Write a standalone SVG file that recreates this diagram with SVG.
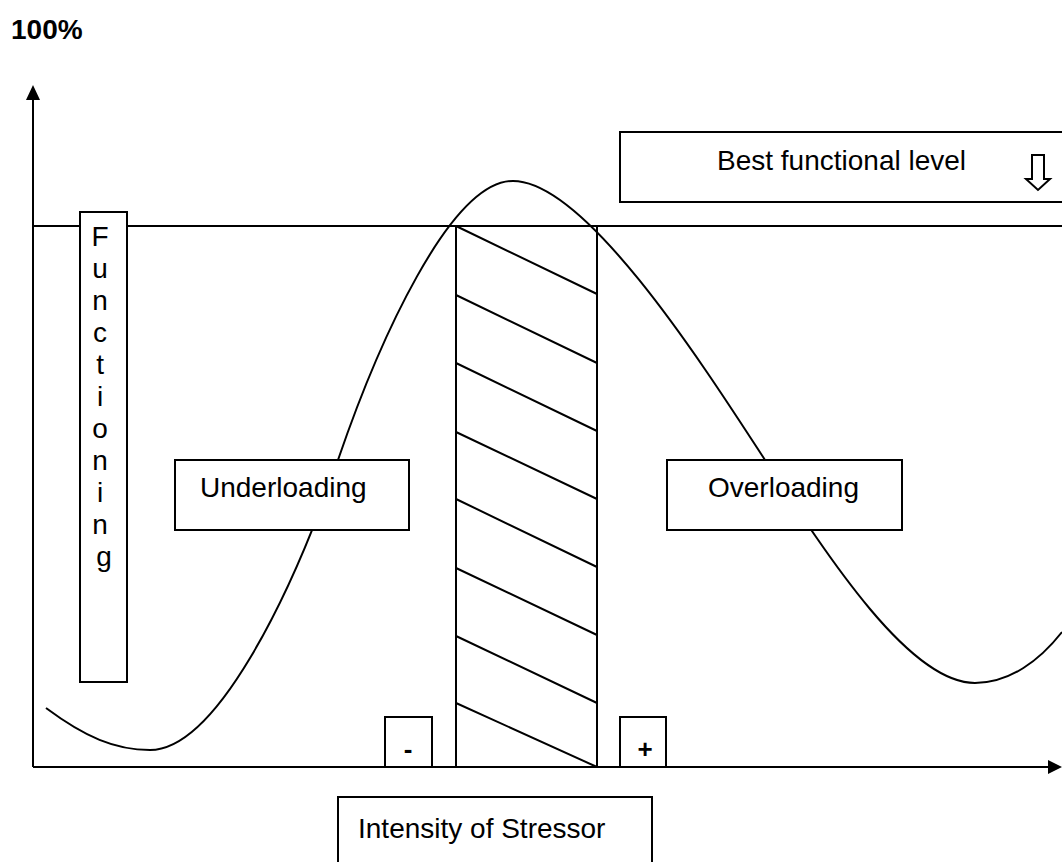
<svg xmlns="http://www.w3.org/2000/svg" width="1062" height="862" viewBox="0 0 1062 862">
<style>
.ln{stroke:#000;stroke-width:2;fill:none}
.bx{stroke:#000;stroke-width:2;fill:#fff}
.t{font-family:"Liberation Sans",Arial,sans-serif;font-size:28px;fill:#000}
.b{font-family:"Liberation Sans",Arial,sans-serif;font-weight:bold;fill:#000}
</style>
<rect width="1062" height="862" fill="#fff"/>
<g id="connectors">
<line class="ln" x1="33" y1="767" x2="33" y2="98"/>
<polygon points="26,100 33,85 40,100" fill="#000"/>
<line class="ln" x1="33" y1="767" x2="1050" y2="767"/>
<polygon points="1048,760 1062,767 1048,774" fill="#000"/>
<line class="ln" x1="33" y1="226" x2="1062" y2="226"/>
<path class="ln" d="M46,708 C85,737 115,750 150,750 C215,750 290,600 338,460 C378,343 450,181 513,181 C585,181 700,360 765,460 C830,560 910,683 975,683 C1010,683 1040,660 1062,632"/>
</g>
<g id="band">
<line class="ln" x1="456" y1="226" x2="456" y2="767"/>
<line class="ln" x1="597" y1="226" x2="597" y2="767"/>
<path class="ln" d="M456,226 L597,294 M456,295 L597,363 M456,363 L597,431 M456,432 L597,499 M456,499 L597,567 M456,568 L597,635 M456,636 L597,703 M456,703 L597,767"/>
</g>
<g id="label-100">
<text class="b" x="11" y="39" font-size="28">100%</text>
</g>
<g id="best-level">
<rect class="bx" x="620" y="132" width="460" height="70"/>
<text class="t" x="717" y="170">Best functional level</text>
<path class="ln" stroke-width="1.5" d="M1032,155 L1044,155 L1044,179 L1050,179 L1038,190 L1026,179 L1032,179 Z"/>
</g>
<g id="functioning">
<rect class="bx" x="80" y="212" width="47" height="470"/>
<text class="t" text-anchor="middle" x="104">
<tspan x="104" y="246">F</tspan>
<tspan x="104" y="278">u</tspan>
<tspan x="104" y="310">n</tspan>
<tspan x="104" y="342">c</tspan>
<tspan x="104" y="374">t</tspan>
<tspan x="104" y="406">i</tspan>
<tspan x="104" y="438">o</tspan>
<tspan x="104" y="470">n</tspan>
<tspan x="104" y="502">i</tspan>
<tspan x="104" y="534">n</tspan>
<tspan x="104" y="566">g</tspan>
</text>
</g>
<g id="underloading">
<rect class="bx" x="175" y="460" width="234" height="70"/>
<text class="t" x="200" y="497">Underloading</text>
</g>
<g id="overloading">
<rect class="bx" x="667" y="460" width="235" height="70"/>
<text class="t" x="708" y="497">Overloading</text>
</g>
<g id="minus">
<rect class="bx" x="385" y="717" width="47" height="50"/>
<text class="b" x="408" y="758" font-size="26" text-anchor="middle">-</text>
</g>
<g id="plus">
<rect class="bx" x="620" y="717" width="46" height="50"/>
<text class="b" x="645" y="758" font-size="26" text-anchor="middle">+</text>
</g>
<g id="intensity">
<rect class="bx" x="338" y="797" width="314" height="80"/>
<text class="t" x="358" y="838">Intensity of Stressor</text>
</g>
</svg>
